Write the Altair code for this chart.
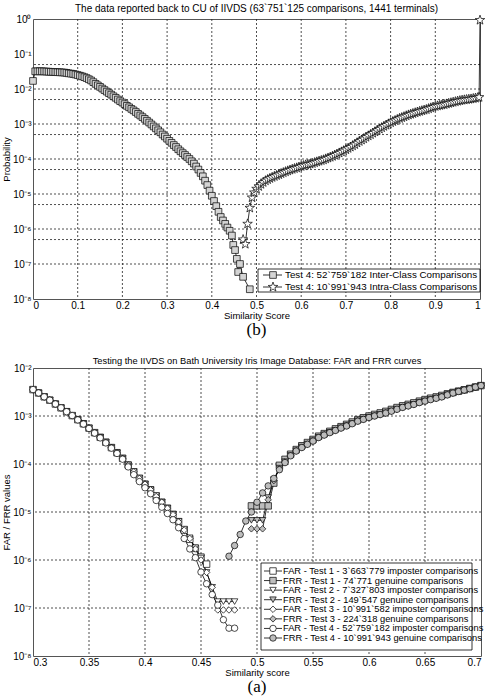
import altair as alt
import pandas as pd

FONT = "Liberation Sans"
SERIF = "Liberation Serif"
STAR = ("M0,-1L0.235,-0.324L0.951,-0.309L0.380,0.124L0.588,0.809L0,0.4"
        "L-0.588,0.809L-0.380,0.124L-0.951,-0.309L-0.235,-0.324Z")

# ---------------- panel (b) ----------------
B_TITLE = "The data reported back to CU of IIVDS (63`751`125 comparisons, 1441 terminals)"
B_SERIES = ["Test 4: 52`759`182 Inter-Class Comparisons",
            "Test 4: 10`991`943 Intra-Class Comparisons"]
INTER_X = [0.000, 0.005, 0.010, 0.015, 0.020, 0.025, 0.030, 0.035, 0.040, 0.045,
           0.050, 0.055, 0.060, 0.065, 0.070, 0.075, 0.080, 0.085, 0.090, 0.095,
           0.100, 0.105, 0.110, 0.115, 0.120, 0.125, 0.130, 0.135, 0.140, 0.145,
           0.150, 0.155, 0.160, 0.165, 0.170, 0.175, 0.180, 0.185, 0.190, 0.195,
           0.200, 0.205, 0.210, 0.215, 0.220, 0.225, 0.230, 0.235, 0.240, 0.245,
           0.250, 0.255, 0.260, 0.265, 0.270, 0.275, 0.280, 0.285, 0.290, 0.295,
           0.300, 0.305, 0.310, 0.315, 0.320, 0.325, 0.330, 0.335, 0.340, 0.345,
           0.350, 0.355, 0.360, 0.365, 0.370, 0.375, 0.380, 0.385, 0.390, 0.395,
           0.400, 0.405, 0.410, 0.415, 0.420, 0.425, 0.430, 0.435, 0.440, 0.445,
           0.448, 0.452, 0.456, 0.459, 0.463, 0.470, 0.485]
INTER_P = [1.7e-2, 3.2e-2, 3.2e-2, 3.2e-2, 3.2e-2, 3.18e-2, 3.15e-2, 3.12e-2, 3.1e-2, 3.08e-2,
           3.05e-2, 3.02e-2, 3.0e-2, 2.98e-2, 2.95e-2, 2.88e-2, 2.8e-2, 2.75e-2, 2.7e-2, 2.6e-2,
           2.5e-2, 2.4e-2, 2.3e-2, 2.18e-2, 2.05e-2, 1.9e-2, 1.75e-2, 1.57e-2, 1.4e-2, 1.27e-2,
           1.15e-2, 1.03e-2, 9.3e-3, 8.4e-3, 7.6e-3, 6.9e-3, 6.2e-3, 5.6e-3, 5.0e-3, 4.5e-3,
           4.1e-3, 3.7e-3, 3.3e-3, 3.0e-3, 2.7e-3, 2.45e-3, 2.2e-3, 1.95e-3, 1.75e-3, 1.57e-3,
           1.4e-3, 1.24e-3, 1.1e-3, 9.7e-4, 8.5e-4, 7.5e-4, 6.6e-4, 5.8e-4, 5.0e-4, 4.4e-4,
           3.8e-4, 3.3e-4, 2.9e-4, 2.5e-4, 2.2e-4, 1.9e-4, 1.66e-4, 1.47e-4, 1.3e-4, 1.14e-4,
           1.0e-4, 8.6e-5, 7.4e-5, 6.1e-5, 5.0e-5, 4.0e-5, 3.2e-5, 2.4e-5, 1.8e-5, 1.25e-5,
           8.9e-6, 6.3e-6, 4.5e-6, 3.1e-6, 2.2e-6, 1.75e-6, 1.4e-6, 1.1e-6, 8.9e-7, 6.5e-7,
           3.5e-7, 2.5e-7, 1.4e-7, 5.9e-8, 1.0e-7, 4.3e-8, 1.9e-8]
INTRA_X = [0.470, 0.475, 0.480, 0.485, 0.490, 0.495, 0.500, 0.505, 0.510, 0.515,
           0.520, 0.525, 0.530, 0.535, 0.540, 0.545, 0.550, 0.555, 0.560, 0.565,
           0.570, 0.575, 0.580, 0.585, 0.590, 0.595, 0.600, 0.605, 0.610, 0.615,
           0.620, 0.625, 0.630, 0.635, 0.640, 0.645, 0.650, 0.655, 0.660, 0.665,
           0.670, 0.675, 0.680, 0.685, 0.690, 0.695, 0.700, 0.705, 0.710, 0.715,
           0.720, 0.725, 0.730, 0.735, 0.740, 0.745, 0.750, 0.755, 0.760, 0.765,
           0.770, 0.775, 0.780, 0.785, 0.790, 0.795, 0.800, 0.805, 0.810, 0.815,
           0.820, 0.825, 0.830, 0.835, 0.840, 0.845, 0.850, 0.855, 0.860, 0.865,
           0.870, 0.875, 0.880, 0.885, 0.890, 0.895, 0.900, 0.905, 0.910, 0.915,
           0.920, 0.925, 0.930, 0.935, 0.940, 0.945, 0.950, 0.955, 0.960, 0.965,
           0.970, 0.975, 0.980, 0.985, 0.990, 0.995, 0.998, 1.000]
INTRA_P = [5.0e-7, 3.7e-7, 1.4e-6, 4.0e-6, 7.9e-6, 1.1e-5, 1.4e-5, 1.65e-5, 1.9e-5, 2.15e-5,
           2.4e-5, 2.6e-5, 2.8e-5, 3.0e-5, 3.2e-5, 3.4e-5, 3.6e-5, 3.85e-5, 4.1e-5, 4.35e-5,
           4.6e-5, 4.85e-5, 5.1e-5, 5.35e-5, 5.6e-5, 5.9e-5, 6.2e-5, 6.5e-5, 6.8e-5, 7.0e-5,
           7.2e-5, 7.5e-5, 7.9e-5, 8.3e-5, 8.7e-5, 9.1e-5, 9.5e-5, 1.01e-4, 1.07e-4, 1.13e-4,
           1.2e-4, 1.29e-4, 1.38e-4, 1.49e-4, 1.6e-4, 1.73e-4, 1.86e-4, 2.02e-4, 2.2e-4, 2.4e-4,
           2.6e-4, 2.9e-4, 3.2e-4, 3.5e-4, 3.8e-4, 4.2e-4, 4.6e-4, 5.0e-4, 5.5e-4, 6.0e-4,
           6.6e-4, 7.2e-4, 7.9e-4, 8.6e-4, 9.3e-4, 1.01e-3, 1.1e-3, 1.18e-3, 1.26e-3, 1.35e-3,
           1.45e-3, 1.53e-3, 1.62e-3, 1.72e-3, 1.82e-3, 1.91e-3, 2.0e-3, 2.1e-3, 2.2e-3, 2.3e-3,
           2.4e-3, 2.5e-3, 2.6e-3, 2.75e-3, 2.9e-3, 3.05e-3, 3.2e-3, 3.3e-3, 3.4e-3, 3.5e-3,
           3.6e-3, 3.75e-3, 3.9e-3, 4.05e-3, 4.2e-3, 4.35e-3, 4.5e-3, 4.65e-3, 4.8e-3, 4.9e-3,
           5.0e-3, 5.1e-3, 5.2e-3, 5.35e-3, 5.5e-3, 5.65e-3, 5.8e-3, 0.93]
B_XTICKS = [0, 0.1, 0.2, 0.3, 0.4, 0.5, 0.6, 0.7, 0.8, 0.9, 1]
B_YTICKS = [1, 1e-1, 1e-2, 1e-3, 1e-4, 1e-5, 1e-6, 1e-7, 1e-8]
B_VGRID = [0.1, 0.2, 0.3, 0.4, 0.5, 0.6, 0.7, 0.8, 0.9]
B_HGRID = [5e-2, 1e-2, 5e-3, 1e-3, 5e-4, 1e-4, 5e-5, 1e-5, 5e-6, 1e-6, 5e-7, 1e-7]

# ---------------- panel (a) ----------------
A_TITLE = "Testing the IIVDS on Bath University Iris Image Database: FAR and FRR curves"
A_SERIES = ["FAR - Test 1 - 3`663`779 imposter comparisons",
            "FRR - Test 1 - 74`771 genuine comparisons",
            "FAR - Test 2 - 7`327`803 imposter comparisons",
            "FRR - Test 2 - 149`547 genuine comparisons",
            "FAR - Test 3 - 10`991`582 imposter comparisons",
            "FRR - Test 3 - 224`318 genuine comparisons",
            "FAR - Test 4 - 52`759`182 imposter comparisons",
            "FRR - Test 4 - 10`991`943 genuine comparisons"]
FAR_X = [0.300, 0.305, 0.310, 0.315, 0.320, 0.325, 0.330, 0.335, 0.340, 0.345,
         0.350, 0.355, 0.360, 0.365, 0.370, 0.375, 0.380, 0.385, 0.390, 0.395,
         0.400, 0.405, 0.410, 0.415, 0.420, 0.425, 0.430, 0.435, 0.440, 0.445,
         0.450, 0.455, 0.460, 0.465, 0.470, 0.475, 0.480]
FRR_X = [0.475, 0.480, 0.485, 0.490, 0.495, 0.500, 0.505, 0.510, 0.515, 0.520,
         0.525, 0.530, 0.535, 0.540, 0.545, 0.550, 0.555, 0.560, 0.565, 0.570,
         0.575, 0.580, 0.585, 0.590, 0.595, 0.600, 0.605, 0.610, 0.615, 0.620,
         0.625, 0.630, 0.635, 0.640, 0.645, 0.650, 0.655, 0.660, 0.665, 0.670,
         0.675, 0.680, 0.685, 0.690, 0.695, 0.700]
FAR1 = [3.55e-3, 3.02e-3, 2.51e-3, 2.14e-3, 1.78e-3, 1.48e-3, 1.23e-3, 1.02e-3, 8.4e-4, 6.9e-4,
        5.6e-4, 4.5e-4, 3.6e-4, 2.85e-4, 2.2e-4, 1.72e-4, 1.32e-4, 9.5e-5, 6.8e-5, 5.0e-5,
        3.8e-5, 2.9e-5, 2.15e-5, 1.6e-5, 1.2e-5, 8.9e-6, 6.3e-6, 4.2e-6, 2.7e-6, 1.75e-6,
        1.15e-6, 8.2e-7]
FAR2 = [3.55e-3, 3.02e-3, 2.51e-3, 2.14e-3, 1.78e-3, 1.48e-3, 1.23e-3, 1.02e-3, 8.4e-4, 6.9e-4,
        5.6e-4, 4.5e-4, 3.6e-4, 2.85e-4, 2.2e-4, 1.7e-4, 1.3e-4, 9.6e-5, 7.0e-5, 5.1e-5,
        3.8e-5, 2.9e-5, 2.2e-5, 1.6e-5, 1.2e-5, 9.0e-6, 6.4e-6, 4.4e-6, 2.9e-6, 1.8e-6,
        1.1e-6, 5.5e-7, 2.7e-7, 1.36e-7, 1.36e-7, 1.36e-7, 1.36e-7]
FAR3 = [3.55e-3, 3.02e-3, 2.51e-3, 2.14e-3, 1.78e-3, 1.48e-3, 1.23e-3, 1.02e-3, 8.4e-4, 6.9e-4,
        5.6e-4, 4.5e-4, 3.6e-4, 2.8e-4, 2.2e-4, 1.7e-4, 1.3e-4, 9.5e-5, 6.9e-5, 5.0e-5,
        3.8e-5, 2.9e-5, 2.1e-5, 1.6e-5, 1.2e-5, 8.8e-6, 6.2e-6, 4.2e-6, 2.8e-6, 1.7e-6,
        1.0e-6, 5.5e-7, 2.7e-7, 9.1e-8, 9.1e-8, 9.1e-8, 9.1e-8]
FAR4 = [3.55e-3, 3.02e-3, 2.51e-3, 2.14e-3, 1.78e-3, 1.48e-3, 1.23e-3, 1.02e-3, 8.3e-4, 6.8e-4,
        5.5e-4, 4.4e-4, 3.5e-4, 2.75e-4, 2.14e-4, 1.66e-4, 1.26e-4, 8.7e-5, 6.0e-5, 4.3e-5,
        3.2e-5, 2.4e-5, 1.74e-5, 1.26e-5, 9.3e-6, 6.9e-6, 4.7e-6, 2.8e-6, 1.7e-6, 1.12e-6,
        5.6e-7, 3.2e-7, 1.9e-7, 1.15e-7, 5.7e-8, 3.8e-8, 3.8e-8]
FRR1 = [1.34e-5, 1.34e-5, 1.34e-5, 1.34e-5, 4.0e-5, 9.4e-5, 1.25e-4, 1.6e-4, 2.0e-4, 2.4e-4,
        2.8e-4, 3.25e-4, 3.8e-4, 4.3e-4, 4.8e-4, 5.4e-4, 6.0e-4, 6.7e-4, 7.5e-4, 8.4e-4,
        9.2e-4, 1.0e-3, 1.08e-3, 1.16e-3, 1.25e-3, 1.37e-3, 1.5e-3, 1.63e-3, 1.75e-3, 1.88e-3,
        2.04e-3, 2.2e-3, 2.35e-3, 2.5e-3, 2.68e-3, 2.9e-3, 3.1e-3, 3.3e-3, 3.5e-3, 3.75e-3,
        4.0e-3, 4.3e-3]
FRR2 = [6.7e-6, 6.7e-6, 6.7e-6, 2.0e-5, 4.7e-5, 8.2e-5, 1.12e-4, 1.5e-4, 1.88e-4, 2.25e-4,
        2.6e-4, 3.05e-4, 3.6e-4, 4.05e-4, 4.55e-4, 5.05e-4, 5.65e-4, 6.3e-4, 7.0e-4, 7.9e-4,
        8.6e-4, 9.4e-4, 1.01e-3, 1.08e-3, 1.16e-3, 1.27e-3, 1.39e-3, 1.52e-3, 1.63e-3, 1.75e-3,
        1.91e-3, 2.06e-3, 2.2e-3, 2.36e-3, 2.52e-3, 2.77e-3, 3.02e-3, 3.26e-3, 3.5e-3, 3.72e-3,
        4.02e-3, 4.3e-3]
FRR3 = [4.46e-6, 4.46e-6, 4.46e-6, 1.8e-5, 4.5e-5, 7.9e-5, 1.1e-4, 1.49e-4, 1.87e-4, 2.22e-4,
        2.58e-4, 3.02e-4, 3.57e-4, 4.02e-4, 4.52e-4, 5.02e-4, 5.62e-4, 6.22e-4, 6.95e-4, 7.85e-4,
        8.55e-4, 9.35e-4, 1.0e-3, 1.07e-3, 1.15e-3, 1.26e-3, 1.38e-3, 1.51e-3, 1.62e-3, 1.74e-3,
        1.9e-3, 2.04e-3, 2.19e-3, 2.34e-3, 2.5e-3, 2.75e-3, 3.0e-3, 3.24e-3, 3.47e-3, 3.7e-3,
        4.0e-3, 4.3e-3]
FRR4 = [1.2e-6, 2.0e-6, 3.4e-6, 6.5e-6, 1.0e-5, 1.6e-5, 2.5e-5, 3.5e-5, 5.0e-5, 7.6e-5,
        1.07e-4, 1.48e-4, 1.86e-4, 2.2e-4, 2.57e-4, 3.0e-4, 3.55e-4, 4.0e-4, 4.5e-4, 5.0e-4,
        5.6e-4, 6.2e-4, 6.9e-4, 7.8e-4, 8.5e-4, 9.3e-4, 1.0e-3, 1.07e-3, 1.15e-3, 1.26e-3,
        1.38e-3, 1.51e-3, 1.62e-3, 1.74e-3, 1.9e-3, 2.04e-3, 2.19e-3, 2.34e-3, 2.5e-3, 2.75e-3,
        3.0e-3, 3.24e-3, 3.47e-3, 3.7e-3, 4.0e-3, 4.3e-3]
A_XTICKS = [0.3, 0.35, 0.4, 0.45, 0.5, 0.55, 0.6, 0.65, 0.7]
A_YTICKS = [1e-2, 1e-3, 1e-4, 1e-5, 1e-6, 1e-7, 1e-8]
A_VGRID = [0.35, 0.4, 0.45, 0.5, 0.55, 0.6, 0.65]
A_HGRID = [1e-3, 1e-4, 1e-5, 1e-6, 1e-7]

GRAY = "#bdbdbd"
GRID = "#222222"


def rows(series, xs, ps):
    return [{"series": series, "x": x, "p": p, "i": k}
            for k, (x, p) in enumerate(zip(xs, ps))]


SUP = ("substring('⁰¹²³⁴⁵⁶⁷⁸⁹', abs(round(log(datum.value)/LN10)), "
       "abs(round(log(datum.value)/LN10))+1)")
YLAB = "'10' + (datum.value < 0.9 ? '⁻' : '') + " + SUP


def panel(df, series, title, title_size, title_offset, xdom, xticks, xfmt, ydom, yticks, ytitle,
          vgrid, hgrid, shapes, fills, sizes, width, height, xtitle, caption, cap_y, leg):
    xs = alt.Scale(domain=xdom, nice=False, zero=False)
    ys = alt.Scale(type="log", domain=ydom, nice=False)
    xaxis = alt.Axis(values=xticks, format=xfmt, title=xtitle, grid=False, ticks=False,
                     tickSize=0, domain=False, labelFont=FONT, labelFontSize=10, labelPadding=1,
                     titleFont=FONT, titleFontSize=9.5, titleFontWeight="normal",
                     titlePadding=0, labelColor="black", titleColor="black")
    yaxis = alt.Axis(values=yticks, labelExpr=YLAB, title=ytitle, grid=False, ticks=False,
                     tickSize=0, domain=False, labelFont=FONT, labelFontSize=10, labelPadding=2,
                     titleFont=FONT, titleFontSize=9.5, titleFontWeight="normal",
                     titlePadding=1, labelColor="black", titleColor="black")
    shape_s = alt.Scale(domain=series, range=shapes)
    fill_s = alt.Scale(domain=series, range=fills)
    size_s = alt.Scale(domain=series, range=sizes)

    vg = alt.Chart(pd.DataFrame({"x": vgrid})).mark_rule(
        color=GRID, strokeWidth=0.8, strokeDash=[2, 2]).encode(x=alt.X("x:Q", scale=xs, axis=xaxis))
    hg = alt.Chart(pd.DataFrame({"p": hgrid})).mark_rule(
        color=GRID, strokeWidth=0.8, strokeDash=[2, 2]).encode(y=alt.Y("p:Q", scale=ys, axis=yaxis))
    line = alt.Chart(df).mark_line(strokeWidth=0.8, color="black").encode(
        x=alt.X("x:Q", scale=xs),
        y=alt.Y("p:Q", scale=ys, axis=None),
        detail="series:N",
        order="i:Q",
    )
    pts = alt.Chart(df).mark_point(filled=True, stroke="black", strokeWidth=0.7, opacity=1).encode(
        x=alt.X("x:Q", scale=xs),
        y=alt.Y("p:Q", scale=ys, axis=None),
        shape=alt.Shape("series:N", scale=shape_s, legend=None),
        fill=alt.Fill("series:N", scale=fill_s, legend=None),
        size=alt.Size("series:N", scale=size_s, legend=None),
    )
    cap = alt.Chart(pd.DataFrame({"t": [caption]})).mark_text(
        font=SERIF, fontSize=17, baseline="middle", align="center", color="black").encode(
        text="t:N", x=alt.value(width / 2), y=alt.value(cap_y))

    # legend (box, line segment, marker, label), markers through the shared scales
    leg_df = pd.DataFrame({"series": series, "row": list(range(len(series)))})
    row_s = alt.Scale(domain=[0, len(series) - 1], range=[leg["r0"], leg["r1"]])
    box = alt.Chart(pd.DataFrame({"k": [0]})).mark_rect(
        fill="white", stroke="black", strokeWidth=0.8).encode(
        x=alt.value(leg["bx0"]), x2=alt.value(leg["bx1"]),
        y=alt.value(leg["by0"]), y2=alt.value(leg["by1"]))
    seg = alt.Chart(leg_df).mark_rule(color="black", strokeWidth=0.8).encode(
        x=alt.value(leg["lx0"]), x2=alt.value(leg["lx1"]),
        y=alt.Y("row:Q", scale=row_s, axis=None))
    sym = alt.Chart(leg_df).mark_point(filled=True, stroke="black", strokeWidth=0.7, opacity=1).encode(
        x=alt.value(leg["sx"]),
        y=alt.Y("row:Q", scale=row_s, axis=None),
        shape=alt.Shape("series:N", scale=shape_s, legend=None),
        fill=alt.Fill("series:N", scale=fill_s, legend=None),
        size=alt.Size("series:N", scale=size_s, legend=None),
    )
    txt = alt.Chart(leg_df).mark_text(
        align="left", baseline="middle", font=FONT, fontSize=leg["fs"], color="black").encode(
        x=alt.value(leg["tx"]),
        y=alt.Y("row:Q", scale=row_s, axis=None),
        text="series:N")

    return alt.layer(vg, hg, line, pts, box, seg, sym, txt, cap).resolve_scale(
        y="independent"
    ).properties(
        width=width, height=height,
        title=alt.TitleParams(title, font=FONT, fontSize=title_size, fontWeight="normal",
                              color="black", anchor="middle", offset=title_offset, frame="group"),
    )


df_b = pd.DataFrame(rows(B_SERIES[0], INTER_X, INTER_P) + rows(B_SERIES[1], INTRA_X, INTRA_P))
top = panel(df_b, B_SERIES, B_TITLE, 10, 0, [0, 1], B_XTICKS, ".1~f", [1e-8, 1], B_YTICKS,
            "Probability", B_VGRID, B_HGRID, ["square", STAR], ["#d4d4d4", "white"], [45, 100],
            447, 280, "Similarity Score", "(b)", 311,
            dict(bx0=225, bx1=447, by0=250, by1=273, r0=256, r1=268,
                 lx0=230, lx1=249, sx=240, tx=252, fs=9.8))

a_rows = (rows(A_SERIES[0], FAR_X[:32], FAR1) + rows(A_SERIES[1], FRR_X[4:], FRR1) +
          rows(A_SERIES[2], FAR_X, FAR2) + rows(A_SERIES[3], FRR_X[4:], FRR2) +
          rows(A_SERIES[4], FAR_X, FAR3) + rows(A_SERIES[5], FRR_X[4:], FRR3) +
          rows(A_SERIES[6], FAR_X, FAR4) + rows(A_SERIES[7], FRR_X, FRR4))
df_a = pd.DataFrame(a_rows)
bottom = panel(df_a, A_SERIES, A_TITLE, 9.3, -3, [0.3, 0.7], A_XTICKS, ".2~f", [1e-8, 1e-2], A_YTICKS,
               "FAR / FRR values", A_VGRID, A_HGRID,
               ["square", "square", "triangle-down", "triangle-down", "diamond", "diamond",
                "circle", "circle"],
               ["white", GRAY, "white", GRAY, "white", GRAY, "white", GRAY],
               [42, 42, 48, 48, 22, 22, 52, 52],
               448, 288, "Similarity score", "(a)", 319,
               dict(bx0=228, bx1=439, by0=195, by1=282, r0=203, r1=270,
                    lx0=231, lx1=249, sx=240, tx=250, fs=9.3))

chart = alt.vconcat(top, bottom, spacing=17).resolve_scale(
    shape="independent", fill="independent", size="independent"
).configure(
    background="white", padding={"left": 1, "top": 3, "right": 0, "bottom": 0}
).configure_view(stroke="#555", strokeWidth=1)

chart.save("out.html", embed_options={"renderer": "svg", "actions": False})
